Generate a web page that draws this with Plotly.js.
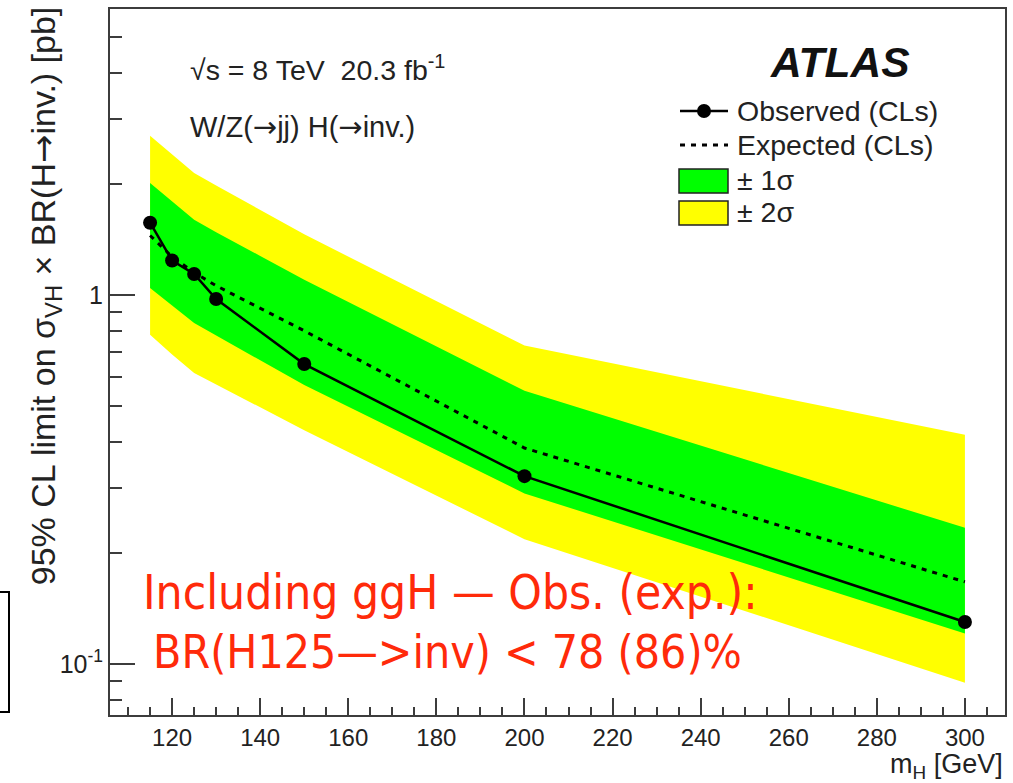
<!DOCTYPE html>
<html>
<head>
<meta charset="utf-8">
<script src="https://cdn.plot.ly/plotly-3.0.1.min.js"></script>
<style>
  html, body { margin: 0; padding: 0; background: #ffffff; }
  #chart { width: 1013px; height: 783px; }
</style>
</head>
<body>
<div id="chart"></div>
<script>
// ---- data ----
const massPoints   = [115, 120, 125, 130, 150, 200, 300];           // m_H [GeV]
const observed     = [1.57, 1.24, 1.14, 0.975, 0.65, 0.323, 0.130]; // pb
const expected     = [1.45, 1.27, 1.15, 1.06, 0.80, 0.385, 0.167];
const plus2sigma   = [2.70, 2.40, 2.14, 1.98, 1.46, 0.73, 0.418];
const plus1sigma   = [2.01, 1.79, 1.60, 1.48, 1.10, 0.55, 0.234];
const minus1sigma  = [1.045, 0.937, 0.84, 0.777, 0.57, 0.29, 0.121];
const minus2sigma  = [0.78, 0.69, 0.615, 0.573, 0.43, 0.218, 0.089];
const xTickVals    = [120, 140, 160, 180, 200, 220, 240, 260, 280, 300];
const yTickVals    = [0.1, 1];
const yTickText    = ['10<sup>-1</sup>', '1'];
const yMinorVals   = [0.08, 0.09, 0.2, 0.3, 0.4, 0.5, 0.6, 0.7, 0.8, 0.9, 2, 3, 4, 5];
const legendLabels = ['Observed (CLs)', 'Expected (CLs)', '± 1σ', '± 2σ'];

// ---- geometry helpers (plot area in pixels) ----
const W = 1013, H = 783;
const M = {l: 110, r: 8, t: 9, b: 68};
const PW = W - M.l - M.r, PH = H - M.t - M.b;
const px = x => (x - M.l) / PW;
const py = y => (H - M.b - y) / PH;

const GREEN = '#00ff00', YELLOW = '#ffff00';
const FONT = 'Liberation Sans, Arial, Helvetica, sans-serif';
const RED_FONT = 'Liberation Sans Narrow, DejaVu Sans Condensed, Liberation Sans, sans-serif';
const ARROW = '<span style="font-family:DejaVu Sans">→</span>';

function band(upper, lower) {
  return {
    x: massPoints.concat(massPoints.slice().reverse()),
    y: upper.concat(lower.slice().reverse())
  };
}
const b2 = band(plus2sigma, minus2sigma);
const b1 = band(plus1sigma, minus1sigma);

const traces = [
  {x: b2.x, y: b2.y, type: 'scatter', mode: 'lines', fill: 'toself',
   fillcolor: YELLOW, line: {width: 0, color: YELLOW}, hoverinfo: 'skip', showlegend: false},
  {x: b1.x, y: b1.y, type: 'scatter', mode: 'lines', fill: 'toself',
   fillcolor: GREEN, line: {width: 0, color: GREEN}, hoverinfo: 'skip', showlegend: false},
  {x: massPoints, y: expected, type: 'scatter', mode: 'lines',
   line: {color: '#000', width: 3, dash: '5px,6px'}, showlegend: false},
  {x: massPoints, y: observed, type: 'scatter', mode: 'lines+markers',
   line: {color: '#000', width: 2.5}, marker: {color: '#000', size: 14}, showlegend: false}
];

const AX = '#3c3c3c';
const shapes = [];
const annotations = [];

// manual legend (ROOT style)
const rowsY = [111, 145, 180, 212];
shapes.push({type: 'line', xref: 'paper', yref: 'paper', x0: px(680), x1: px(728), y0: py(rowsY[0]), y1: py(rowsY[0]), line: {color: '#000', width: 2.5}});
shapes.push({type: 'circle', xref: 'paper', yref: 'paper', x0: px(697), x1: px(711), y0: py(rowsY[0] + 7), y1: py(rowsY[0] - 7), fillcolor: '#000', line: {color: '#000', width: 0}});
shapes.push({type: 'line', xref: 'paper', yref: 'paper', x0: px(680), x1: px(728), y0: py(rowsY[1]), y1: py(rowsY[1]), line: {color: '#000', width: 3, dash: '5px,6px'}});
shapes.push({type: 'rect', xref: 'paper', yref: 'paper', x0: px(679), x1: px(728), y0: py(193), y1: py(169), fillcolor: GREEN, line: {color: '#222', width: 1.5}});
shapes.push({type: 'rect', xref: 'paper', yref: 'paper', x0: px(679), x1: px(728), y0: py(225), y1: py(201), fillcolor: YELLOW, line: {color: '#222', width: 1.5}});
legendLabels.forEach((t, i) => {
  annotations.push({xref: 'paper', yref: 'paper', x: px(735), y: py(rowsY[i]), xanchor: 'left', yanchor: 'middle',
    text: t, showarrow: false, font: {family: FONT, size: 28.5, color: '#222'}});
});

// clipped box at left edge
shapes.push({type: 'rect', xref: 'paper', yref: 'paper', x0: px(-20), x1: px(9), y0: py(712), y1: py(592), line: {color: '#000', width: 2}, fillcolor: 'rgba(0,0,0,0)'});

annotations.push(
  {xref: 'paper', yref: 'paper', x: px(188), y: py(68), xanchor: 'left', yanchor: 'middle', showarrow: false,
   text: '√s = 8 TeV\u00a0\u00a020.3 fb<sup>-1</sup>', font: {family: FONT, size: 28.5, color: '#222'}},
  {xref: 'paper', yref: 'paper', x: px(188), y: py(127), xanchor: 'left', yanchor: 'middle', showarrow: false,
   text: 'W/Z(' + ARROW + 'jj) H(' + ARROW + 'inv.)', font: {family: FONT, size: 29, color: '#222'}},
  {xref: 'paper', yref: 'paper', x: px(768), y: py(62), xanchor: 'left', yanchor: 'middle', showarrow: false,
   text: '<b><i>ATLAS</i></b>', font: {family: FONT, size: 42.5, color: '#111'}},
  {xref: 'paper', yref: 'paper', x: px(45), y: 1.006, xanchor: 'center', yanchor: 'top', showarrow: false, textangle: -90,
   text: '95% CL limit on σ<sub>VH</sub> × BR(H' + ARROW + 'inv.) [pb]', font: {family: FONT, size: 34, color: '#222'}},
  {xref: 'paper', yref: 'paper', x: 1.0, y: py(785), xanchor: 'right', yanchor: 'bottom', showarrow: false,
   text: 'm<sub>H</sub> [GeV]', font: {family: FONT, size: 27, color: '#222'}},
  {xref: 'paper', yref: 'paper', x: px(141), y: py(592), xanchor: 'left', yanchor: 'middle', showarrow: false,
   text: 'Including ggH — Obs. (exp.):', font: {family: RED_FONT, size: 47.5, color: '#ff2a0a'}},
  {xref: 'paper', yref: 'paper', x: px(151), y: py(652), xanchor: 'left', yanchor: 'middle', showarrow: false,
   text: 'BR(H125—>inv) < 78 (86)%', font: {family: RED_FONT, size: 46, color: '#ff2a0a'}}
);

const layout = {
  width: W, height: H,
  margin: M,
  paper_bgcolor: '#fff', plot_bgcolor: '#fff',
  showlegend: false,
  font: {family: FONT, color: '#222', size: 24},
  xaxis: {
    range: [105.9, 309.1], tickmode: 'array', tickvals: xTickVals,
    ticks: 'inside', ticklen: 17, tickwidth: 2, tickcolor: AX,
    minor: {tick0: 0, dtick: 5, ticks: 'inside', ticklen: 8, tickwidth: 2, tickcolor: AX},
    showline: true, linecolor: AX, linewidth: 2, mirror: true,
    showgrid: false, zeroline: false,
    tickfont: {family: FONT, size: 24, color: '#222'}
  },
  yaxis: {
    type: 'log', range: [-1.138, 0.775], tickmode: 'array', tickvals: yTickVals, ticktext: yTickText,
    ticks: 'inside', ticklen: 25, tickwidth: 2, tickcolor: AX,
    minor: {tickmode: 'array', tickvals: yMinorVals, ticks: 'inside', ticklen: 12, tickwidth: 2, tickcolor: AX},
    showline: true, linecolor: AX, linewidth: 2, mirror: true,
    showgrid: false, zeroline: false,
    tickfont: {family: FONT, size: 25, color: '#222'}
  },
  shapes: shapes,
  annotations: annotations
};

Plotly.newPlot('chart', traces, layout, {staticPlot: true, displayModeBar: false});
</script>
</body>
</html>
